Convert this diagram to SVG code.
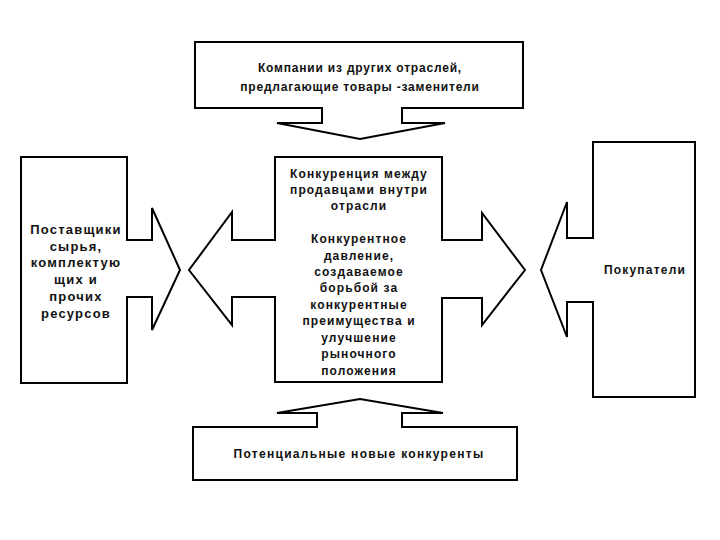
<svg xmlns="http://www.w3.org/2000/svg" width="720" height="540" viewBox="0 0 720 540">
<style>
.box{fill:#fff;stroke:#000;stroke-width:2}
.arr{fill:#fff;stroke:#000;stroke-width:2;stroke-linejoin:miter}
text{font-family:"Liberation Sans",Arial,sans-serif;font-size:12px;font-weight:bold;fill:#111;text-anchor:middle}
.t1{letter-spacing:0.8px}
.t2{letter-spacing:1.1px}
.t3{font-size:13px;letter-spacing:1.2px}
.t4{letter-spacing:1.3px}
.t5{letter-spacing:1.2px}
</style>
<rect width="720" height="540" fill="#fff"/>
<g id="substitutes">
<rect class="box" x="195" y="42" width="328" height="66"/>
<text class="t1" x="360" y="72">Компании из других отраслей,</text>
<text class="t1" x="360" y="91">предлагающие товары -заменители</text>
</g>
<g id="suppliers">
<rect class="box" x="21" y="157" width="106" height="226"/>
<text class="t3" x="76" y="234">Поставщики</text>
<text class="t3" x="76" y="251">сырья,</text>
<text class="t3" x="76" y="267">комплектую</text>
<text class="t3" x="76" y="284">щих и</text>
<text class="t3" x="76" y="301">прочих</text>
<text class="t3" x="76" y="318">ресурсов</text>
</g>
<g id="rivalry">
<rect class="box" x="275" y="157" width="167" height="225"/>
<text class="t2" x="359" y="178">Конкуренция между</text>
<text class="t2" x="359" y="194">продавцами внутри</text>
<text class="t2" x="359" y="210">отрасли</text>
<text class="t2" x="359" y="243">Конкурентное</text>
<text class="t2" x="359" y="260">давление,</text>
<text class="t2" x="359" y="276">создаваемое</text>
<text class="t2" x="359" y="292">борьбой за</text>
<text class="t2" x="359" y="309">конкурентные</text>
<text class="t2" x="359" y="325">преимущества и</text>
<text class="t2" x="359" y="342">улучшение</text>
<text class="t2" x="359" y="358">рыночного</text>
<text class="t2" x="359" y="375">положения</text>
</g>
<g id="buyers">
<rect class="box" x="593" y="142" width="102" height="255"/>
<text class="t5" x="645" y="274">Покупатели</text>
</g>
<g id="entrants">
<rect class="box" x="193" y="427" width="324" height="53"/>
<text class="t4" x="359" y="458">Потенциальные новые конкуренты</text>
</g>
<g id="connectors">
<path class="arr" d="M322,107 V123 H277 L360,139 L445,123 H402 V107"/>
<path class="arr" d="M317,428 V413 H277 L360,399 L443,413 H402 V428"/>
<path class="arr" d="M126,240 H152 V208 L180,270 L152,330 V297 H126"/>
<path class="arr" d="M276,240 H232 V212 L189,270 L232,325 V297 H276"/>
<path class="arr" d="M441,240 H482 V213 L525,270 L482,325 V298 H441"/>
<path class="arr" d="M594,238 H567 V202 L541,270 L567,337 V302 H594"/>
</g>
</svg>
